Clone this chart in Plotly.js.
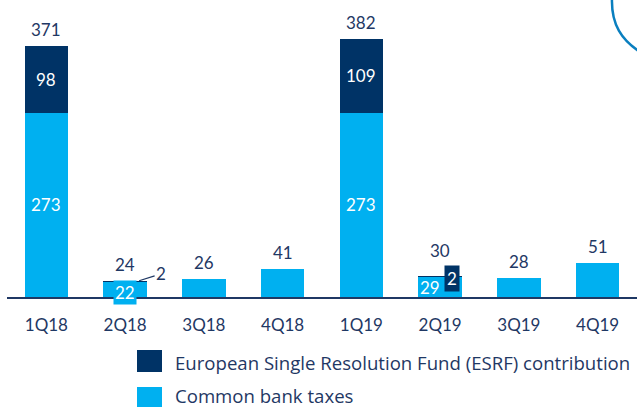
<!DOCTYPE html>
<html><head><meta charset="utf-8">
<script src="https://cdn.plot.ly/plotly-3.0.1.min.js"></script>
<style>html,body{margin:0;padding:0;background:#fff}</style>
</head><body>
<div id="chart" style="width:637px;height:407px"></div>
<script>
const quarters = ["1Q18","2Q18","3Q18","4Q18","1Q19","2Q19","3Q19","4Q19"];
const commonTaxes = [273, 22, 26, 41, 273, 29, 28, 51];
const esrf = [98, 2, 0, 0, 109, 2, 0, 0];
const totals = [371, 24, 26, 41, 382, 30, 28, 51];
const seriesNames = ["European Single Resolution Fund (ESRF) contribution", "Common bank taxes"];

const NAVY = "#003366", LIGHT = "#00b0f0", TXT = "#1f3864";
const FONT = "Lato, 'Open Sans', sans-serif";
const LFONT = "'Open Sans', Lato, sans-serif";

const traces = [
  {type:"bar", x:quarters, y:commonTaxes, name:seriesNames[1], marker:{color:LIGHT}, hoverinfo:"skip"},
  {type:"bar", x:quarters, y:esrf, name:seriesNames[0], marker:{color:NAVY}, hoverinfo:"skip"}
];

const ann = [];
const L = 7, W = 630, T = 20, H = 277, BASE = T + H;
const px = x => (x - L) / W, py = y => (BASE - y) / H;

quarters.forEach((q, i) => {
  const extra = (i === 5) ? 9 : 0;
  ann.push({x:q, y:commonTaxes[i] + esrf[i], text:String(totals[i]), showarrow:false,
    yanchor:"bottom", yshift:4 + extra, font:{size:17, color:TXT, family:FONT}});
  if (commonTaxes[i] > 100) {
    ann.push({x:q, y:commonTaxes[i] / 2, text:String(commonTaxes[i]), showarrow:false,
      font:{size:17, color:"#fff", family:FONT}});
  }
  if (esrf[i] > 50) {
    ann.push({x:q, y:commonTaxes[i] + esrf[i] / 2, text:String(esrf[i]), showarrow:false,
      font:{size:17, color:"#fff", family:FONT}});
  }
});
ann.push({x:quarters[1], y:commonTaxes[1] / 2, text:String(commonTaxes[1]), showarrow:false,
  bgcolor:LIGHT, borderpad:1, yshift:-3, font:{size:17, color:"#fff", family:FONT}});
ann.push({x:quarters[1], y:commonTaxes[1] + esrf[1], text:String(esrf[1]), showarrow:true,
  arrowhead:0, arrowwidth:1.2, arrowcolor:TXT, ax:22, ay:-7, xshift:14,
  font:{size:17, color:TXT, family:FONT}});
ann.push({x:quarters[5], y:commonTaxes[5] / 2, text:String(commonTaxes[5]), showarrow:false,
  xshift:-10, font:{size:17, color:"#fff", family:FONT}});
ann.push({x:quarters[5], y:commonTaxes[5], text:String(esrf[5]), showarrow:false,
  xshift:12, yshift:-1, bgcolor:NAVY, borderpad:2, font:{size:17, color:"#fff", family:FONT}});

const shapes = [
  {type:"rect", xref:"paper", yref:"paper", x0:px(137), x1:px(162), y0:py(350), y1:py(372),
   fillcolor:NAVY, line:{width:0}},
  {type:"rect", xref:"paper", yref:"paper", x0:px(137), x1:px(162), y0:py(387), y1:py(410),
   fillcolor:LIGHT, line:{width:0}},
  {type:"path", xref:"paper", yref:"paper",
   path:`M ${px(612)} ${py(-2)} C ${px(611)} ${py(25)}, ${px(622)} ${py(40)}, ${px(640)} ${py(52)}`,
   line:{color:"#0a7fbf", width:2.5}}
];
ann.push({xref:"paper", yref:"paper", x:px(174), y:py(362), xanchor:"left", yanchor:"middle",
  text:seriesNames[0], showarrow:false, borderpad:0, font:{size:18.6, color:TXT, family:LFONT}});
ann.push({xref:"paper", yref:"paper", x:px(174), y:py(395), xanchor:"left", yanchor:"middle",
  text:seriesNames[1], showarrow:false, borderpad:0, font:{size:18.6, color:TXT, family:LFONT}});

const layout = {
  width:637, height:407, barmode:"stack", bargap:0.45,
  margin:{l:L, r:0, t:T, b:407 - BASE, pad:0},
  paper_bgcolor:"#fff", plot_bgcolor:"#fff", showlegend:false,
  font:{family:FONT, color:TXT},
  xaxis:{showline:true, linecolor:"#1f3864", linewidth:2, ticks:"", showgrid:false,
    tickfont:{size:17, color:TXT, family:FONT}, ticklabelstandoff:12, fixedrange:true},
  yaxis:{range:[0, 410], visible:false, showgrid:false, zeroline:false, fixedrange:true},
  annotations:ann, shapes:shapes
};
Plotly.newPlot("chart", traces, layout, {displayModeBar:false, staticPlot:true});
</script>
</body></html>
